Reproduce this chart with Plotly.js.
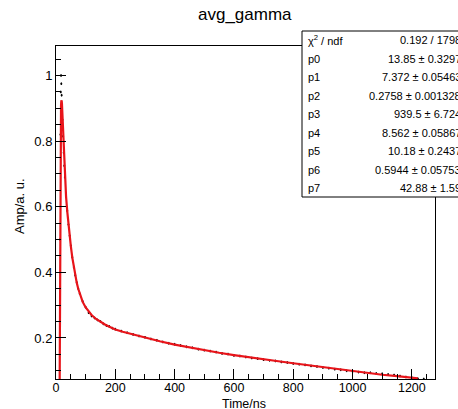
<!DOCTYPE html>
<html>
<head>
<meta charset="utf-8">
<script src="https://cdn.plot.ly/plotly-3.0.1.min.js"></script>
<style>html,body{margin:0;padding:0;background:#fff;}#chart{width:458px;height:409px;}</style>
</head>
<body>
<div id="chart"></div>
<script>
// Histogram data (black points)
const dataTime = [0,4,8,12,14,15,16,17,18,19,20,22,24,26,28,30,34,38,42,46,50,55,60,65,70,75,80,90,100,110,120,130,140,150,160,170,180,190,200,220,240,260,280,300,320,340,360,380,400,420,440,460,480,500,520,540,560,580,600,620,640,660,680,700,720,740,760,780,800,820,840,860,880,900,920,940,960,980,1000,1020,1040,1060,1080,1100,1120,1140,1160,1180,1200,1220,1240];
const dataAmp = [0.01,0.012,0.01,0.03,0.5,0.82,0.95,1.0,0.975,0.94,0.91,0.865,0.815,0.765,0.725,0.69,0.632,0.588,0.546,0.512,0.481,0.446,0.416,0.391,0.369,0.351,0.335,0.311,0.294,0.277,0.267,0.261,0.255,0.25,0.243,0.238,0.235,0.23,0.227,0.221,0.216,0.211,0.206,0.202,0.197,0.193,0.188,0.184,0.181,0.177,0.173,0.17,0.166,0.163,0.16,0.157,0.153,0.151,0.147,0.145,0.142,0.139,0.137,0.134,0.132,0.13,0.127,0.125,0.122,0.12,0.118,0.115,0.113,0.11,0.108,0.105,0.103,0.1,0.098,0.096,0.094,0.094,0.092,0.091,0.089,0.087,0.084,0.081,0.079,0.076,0.075];
// Fit curve (red)
const fitTime = [12,13,14,15,16,17,18,19,20,22,24,26,28,30,34,38,42,46,50,55,60,65,70,75,80,90,100,110,120,135,150,165,180,200,225,250,275,300,350,400,450,500,550,600,650,700,750,800,850,900,950,1000,1050,1100,1150,1200,1220];
const fitAmp = [0.0,0.3,0.6,0.8,0.88,0.91,0.922,0.924,0.915,0.87,0.81,0.76,0.72,0.685,0.63,0.585,0.545,0.51,0.48,0.445,0.415,0.39,0.368,0.35,0.334,0.31,0.293,0.28,0.27,0.258,0.249,0.241,0.234,0.226,0.219,0.213,0.207,0.201,0.19,0.18,0.171,0.163,0.155,0.148,0.141,0.135,0.129,0.123,0.117,0.111,0.104,0.098,0.093,0.088,0.084,0.079,0.077];
// Axis ticks
const xTickVals = [0,200,400,600,800,1000,1200];
const xTickText = ["0","200","400","600","800","1000","1200"];
const yTickVals = [0.2,0.4,0.6,0.8,1.0];
const yTickText = ["0.2","0.4","0.6","0.8","1"];
// Stats box
const statNames = ["χ<sup>2</sup> / ndf","p0","p1","p2","p3","p4","p5","p6","p7"];
const statValues = ["0.192 / 1798","13.85 ± 0.3297","7.372 ± 0.05463","0.2758 ± 0.001328","939.5 ± 6.724","8.562 ± 0.05867","10.18 ± 0.2437","0.5944 ± 0.05753","42.88 ± 1.59"];

const FONT = "Liberation Sans, Arial, Helvetica, sans-serif";
const L = 56, R = 435, T = 46, B = 379, W = 458, H = 409;
const px = x => (x - L) / (R - L);
const py = y => (B - y) / (B - T);

const traces = [
  {
    x: dataTime, y: dataAmp, type: 'scatter', mode: 'markers',
    marker: {color: '#000', size: 2},
    error_y: {type: 'constant', value: 0.004, color: '#000', thickness: 1, width: 0},
    hoverinfo: 'skip'
  },
  {
    x: fitTime, y: fitAmp, type: 'scatter', mode: 'lines',
    line: {color: '#e8141a', width: 2.2},
    hoverinfo: 'skip'
  }
];

const annotations = [];
const rowTop = 40, rowStep = 18.5;
statNames.forEach((n, i) => {
  const yy = rowTop + i * rowStep;
  annotations.push({xref: 'paper', yref: 'paper', x: px(306), y: py(yy), xanchor: 'left', yanchor: 'middle',
    text: n, showarrow: false, font: {family: FONT, size: 11, color: '#000'}});
  annotations.push({xref: 'paper', yref: 'paper', x: px(463), y: py(yy), xanchor: 'right', yanchor: 'middle',
    text: statValues[i], showarrow: false, font: {family: FONT, size: 11, color: '#000'}});
});
annotations.push({xref: 'paper', yref: 'paper', x: px(245), y: py(15), xanchor: 'center', yanchor: 'middle',
  text: 'avg_gamma', showarrow: false, font: {family: FONT, size: 17, color: '#000'}});
annotations.push({xref: 'paper', yref: 'paper', x: px(244), y: py(403.5), xanchor: 'center', yanchor: 'middle',
  text: 'Time/ns', showarrow: false, font: {family: FONT, size: 12.5, color: '#000'}});
annotations.push({xref: 'paper', yref: 'paper', x: px(19), y: py(206), xanchor: 'center', yanchor: 'middle',
  text: 'Amp/a. u.', textangle: -90, showarrow: false, font: {family: FONT, size: 13, color: '#000'}});

const layout = {
  width: W, height: H,
  margin: {l: L, r: W - R, t: T, b: H - B, pad: 0},
  paper_bgcolor: '#fff', plot_bgcolor: '#fff',
  showlegend: false, hovermode: false,
  font: {family: FONT, size: 13, color: '#000'},
  xaxis: {
    range: [0, 1278], showgrid: false, zeroline: false,
    showline: true, linecolor: '#000', linewidth: 1, mirror: true,
    ticks: 'inside', ticklen: 10, tickcolor: '#000', tickwidth: 1,
    tickmode: 'array', tickvals: xTickVals, ticktext: xTickText,
    tickfont: {family: FONT, size: 12.5, color: '#000'},
    ticklabelstandoff: -3,
    minor: {dtick: 50, tick0: 0, ticks: 'inside', ticklen: 5, tickcolor: '#000', showgrid: false},
    automargin: false
  },
  yaxis: {
    range: [0.075, 1.09], showgrid: false, zeroline: false,
    showline: true, linecolor: '#000', linewidth: 1, mirror: true,
    ticks: 'inside', ticklen: 10, tickcolor: '#000', tickwidth: 1,
    tickmode: 'array', tickvals: yTickVals, ticktext: yTickText,
    tickfont: {family: FONT, size: 13, color: '#000'},
    minor: {dtick: 0.05, tick0: 0, ticks: 'inside', ticklen: 5, tickcolor: '#000', showgrid: false},
    automargin: false
  },
  shapes: [
    {type: 'rect', xref: 'paper', yref: 'paper', x0: px(302), x1: px(470), y0: py(197), y1: py(31),
     fillcolor: '#fff', line: {color: '#000', width: 1}, layer: 'above'}
  ],
  annotations: annotations
};

Plotly.newPlot('chart', traces, layout, {staticPlot: true, displayModeBar: false});
</script>
</body>
</html>
